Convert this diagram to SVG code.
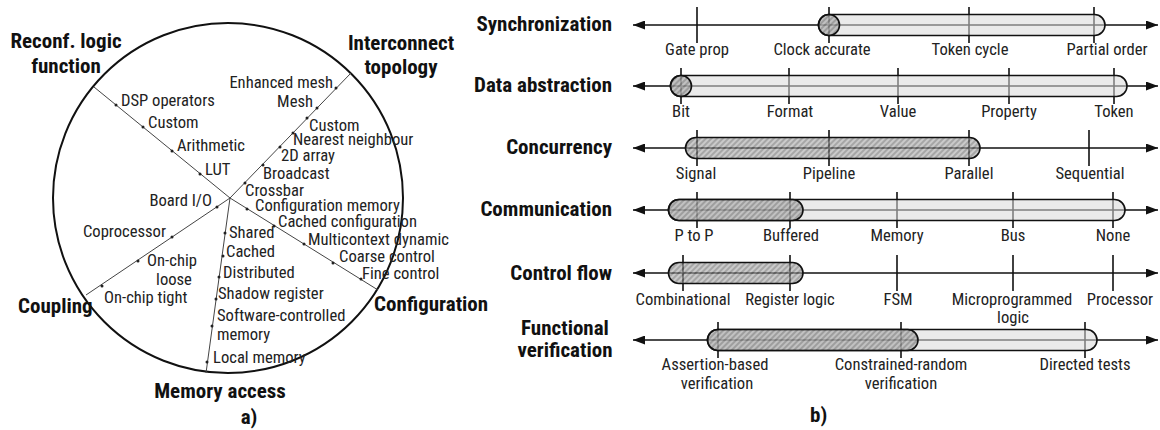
<svg xmlns="http://www.w3.org/2000/svg" width="1160" height="430" viewBox="0 0 1160 430">
  <style>
    text { font-family: 'Roboto Condensed', 'Liberation Sans Narrow', Roboto, sans-serif; }
    .ttl { font-size: 21px; font-weight: 700; fill: #111; }
    .lab { font-size: 16.6px; fill: #222; }
    .tl { font-size: 16.6px; fill: #222; text-anchor: middle; }
    .mid { text-anchor: middle; }
    .end { text-anchor: end; }
    .spoke { stroke: #444; stroke-width: 1; fill: none; }
    .dot { fill: #222; }
    .axis { stroke: #111; stroke-width: 1.6; fill: none; marker-start: url(#arr); marker-end: url(#arr); }
    .tick { stroke: #111; stroke-width: 1.6; }
    .light { fill: #d8d8d8; fill-opacity: 0.55; stroke: #111; stroke-width: 1.6; }
    .hatch { fill: url(#hp); fill-opacity: 0.6; stroke: #111; stroke-width: 1.6; }
  </style>
  <defs>
    <marker id="arr" markerUnits="userSpaceOnUse" markerWidth="12" markerHeight="9" refX="12" refY="4.5" orient="auto-start-reverse">
      <path d="M0,0 L12,4.5 L0,9 Z" fill="#111"/>
    </marker>
    <pattern id="hp" patternUnits="userSpaceOnUse" width="4" height="4" patternTransform="rotate(45)">
      <rect width="4" height="4" fill="#a6a6a6"/>
      <line x1="1" y1="0" x2="1" y2="4" stroke="#3a3a3a" stroke-width="1.1"/>
    </pattern>
  </defs>

  <!-- a) design-space wheel -->
  <g id="wheel">
    <circle cx="228" cy="198" r="175" fill="none" stroke="#111" stroke-width="2"/>
  </g>

  <g id="connectors">
    <line class="spoke" x1="230" y1="198" x2="94" y2="87"/>
    <line class="spoke" x1="230" y1="198" x2="351" y2="73"/>
    <line class="spoke" x1="230" y1="198" x2="378" y2="290"/>
    <line class="spoke" x1="230" y1="198" x2="206" y2="373"/>
    <line class="spoke" x1="230" y1="198" x2="86" y2="295"/>
  </g>

  <g id="reconf-logic-function">
    <text class="ttl mid" x="66" y="48">Reconf. logic</text>
    <text class="ttl mid" x="66" y="73">function</text>
    <circle class="dot" cx="116" cy="105" r="1.5"/>
    <circle class="dot" cx="143" cy="127" r="1.5"/>
    <circle class="dot" cx="172" cy="151" r="1.5"/>
    <circle class="dot" cx="200" cy="174" r="1.5"/>
    <text class="lab" x="121" y="106">DSP operators</text>
    <text class="lab" x="148" y="128">Custom</text>
    <text class="lab" x="177" y="151">Arithmetic</text>
    <text class="lab" x="205" y="175">LUT</text>
  </g>

  <g id="interconnect-topology">
    <text class="ttl mid" x="401" y="50">Interconnect</text>
    <text class="ttl mid" x="401" y="74">topology</text>
    <circle class="dot" cx="336" cy="88" r="1.5"/>
    <circle class="dot" cx="317" cy="108" r="1.5"/>
    <circle class="dot" cx="307" cy="118" r="1.5"/>
    <circle class="dot" cx="293" cy="133" r="1.5"/>
    <circle class="dot" cx="280" cy="147" r="1.5"/>
    <circle class="dot" cx="263" cy="165" r="1.5"/>
    <circle class="dot" cx="245" cy="183" r="1.5"/>
    <text class="lab end" x="333" y="88">Enhanced mesh</text>
    <text class="lab end" x="313" y="107">Mesh</text>
    <text class="lab" x="309" y="131">Custom</text>
    <text class="lab" x="293" y="145">Nearest neighbour</text>
    <text class="lab" x="281" y="161">2D array</text>
    <text class="lab" x="263" y="179">Broadcast</text>
    <text class="lab" x="245" y="196">Crossbar</text>
  </g>

  <g id="configuration">
    <text class="ttl" x="374" y="311">Configuration</text>
    <circle class="dot" cx="247" cy="209" r="1.5"/>
    <circle class="dot" cx="274" cy="226" r="1.5"/>
    <circle class="dot" cx="304" cy="244" r="1.5"/>
    <circle class="dot" cx="333" cy="263" r="1.5"/>
    <circle class="dot" cx="361" cy="279" r="1.5"/>
    <text class="lab" x="255" y="211">Configuration memory</text>
    <text class="lab" x="278" y="227">Cached configuration</text>
    <text class="lab" x="308" y="245">Multicontext dynamic</text>
    <text class="lab" x="339" y="262">Coarse control</text>
    <text class="lab" x="362" y="279">Fine control</text>
  </g>

  <g id="memory-access">
    <text class="ttl mid" x="220" y="398">Memory access</text>
    <circle class="dot" cx="225" cy="233" r="1.5"/>
    <circle class="dot" cx="223" cy="256" r="1.5"/>
    <circle class="dot" cx="219" cy="277" r="1.5"/>
    <circle class="dot" cx="216" cy="299" r="1.5"/>
    <circle class="dot" cx="212" cy="326" r="1.5"/>
    <circle class="dot" cx="207" cy="362" r="1.5"/>
    <text class="lab" x="229" y="238">Shared</text>
    <text class="lab" x="226" y="257">Cached</text>
    <text class="lab" x="223" y="278">Distributed</text>
    <text class="lab" x="218" y="299">Shadow register</text>
    <text class="lab" x="217" y="321">Software-controlled</text>
    <text class="lab" x="217" y="340">memory</text>
    <text class="lab" x="213" y="363">Local memory</text>
  </g>

  <g id="coupling">
    <text class="ttl" x="18" y="313">Coupling</text>
    <circle class="dot" cx="217" cy="207" r="1.5"/>
    <circle class="dot" cx="172" cy="237" r="1.5"/>
    <circle class="dot" cx="138" cy="261" r="1.5"/>
    <circle class="dot" cx="102" cy="286" r="1.5"/>
    <text class="lab end" x="212" y="206">Board I/O</text>
    <text class="lab end" x="166" y="237">Coprocessor</text>
    <text class="lab mid" x="172" y="266">On-chip</text>
    <text class="lab mid" x="174" y="285">loose</text>
    <text class="lab" x="104" y="303">On-chip tight</text>
  </g>

  <text class="ttl mid" x="249" y="424">a)</text>

  <!-- b) abstraction scales -->
  <g id="synchronization">
    <text class="ttl end" x="612" y="31">Synchronization</text>
    <line class="axis" x1="633" y1="25" x2="1158" y2="25"/>
    <line class="tick" x1="697" y1="7" x2="697" y2="43"/>
    <line class="tick" x1="829" y1="7" x2="829" y2="43"/>
    <line class="tick" x1="969" y1="7" x2="969" y2="43"/>
    <line class="tick" x1="1094" y1="7" x2="1094" y2="43"/>
    <rect class="light" x="818.5" y="14.5" width="286.5" height="21" rx="10.5"/>
    <circle class="hatch" cx="829" cy="25" r="10.5"/>
    <text class="tl" x="697" y="55">Gate prop</text>
    <text class="tl" x="822" y="55">Clock accurate</text>
    <text class="tl" x="970" y="55">Token cycle</text>
    <text class="tl" x="1107" y="55">Partial order</text>
  </g>

  <g id="data-abstraction">
    <text class="ttl end" x="612" y="92">Data abstraction</text>
    <line class="axis" x1="633" y1="86" x2="1158" y2="86"/>
    <line class="tick" x1="681" y1="68" x2="681" y2="104"/>
    <line class="tick" x1="789" y1="68" x2="789" y2="104"/>
    <line class="tick" x1="898" y1="68" x2="898" y2="104"/>
    <line class="tick" x1="1009" y1="68" x2="1009" y2="104"/>
    <line class="tick" x1="1114" y1="68" x2="1114" y2="104"/>
    <rect class="light" x="670.5" y="75.5" width="456.5" height="21" rx="10.5"/>
    <circle class="hatch" cx="681" cy="86" r="10.5"/>
    <text class="tl" x="681" y="117">Bit</text>
    <text class="tl" x="790" y="117">Format</text>
    <text class="tl" x="898" y="117">Value</text>
    <text class="tl" x="1009" y="117">Property</text>
    <text class="tl" x="1114" y="117">Token</text>
  </g>

  <g id="concurrency">
    <text class="ttl end" x="612" y="154">Concurrency</text>
    <line class="axis" x1="633" y1="148" x2="1158" y2="148"/>
    <line class="tick" x1="697" y1="130" x2="697" y2="166"/>
    <line class="tick" x1="829" y1="130" x2="829" y2="166"/>
    <line class="tick" x1="969" y1="130" x2="969" y2="166"/>
    <line class="tick" x1="1089" y1="130" x2="1089" y2="166"/>
    <rect class="hatch" x="685.5" y="137.5" width="294.5" height="21" rx="10.5"/>
    <text class="tl" x="696" y="179">Signal</text>
    <text class="tl" x="829" y="179">Pipeline</text>
    <text class="tl" x="969" y="179">Parallel</text>
    <text class="tl" x="1090" y="179">Sequential</text>
  </g>

  <g id="communication">
    <text class="ttl end" x="612" y="216">Communication</text>
    <line class="axis" x1="633" y1="210" x2="1158" y2="210"/>
    <line class="tick" x1="697" y1="192" x2="697" y2="228"/>
    <line class="tick" x1="790" y1="192" x2="790" y2="228"/>
    <line class="tick" x1="897" y1="192" x2="897" y2="228"/>
    <line class="tick" x1="1013" y1="192" x2="1013" y2="228"/>
    <line class="tick" x1="1113" y1="192" x2="1113" y2="228"/>
    <rect class="light" x="668.5" y="199.5" width="456.5" height="21" rx="10.5"/>
    <rect class="hatch" x="668.5" y="199.5" width="134.5" height="21" rx="10.5"/>
    <text class="tl" x="694" y="241">P to P</text>
    <text class="tl" x="791" y="241">Buffered</text>
    <text class="tl" x="897" y="241">Memory</text>
    <text class="tl" x="1013" y="241">Bus</text>
    <text class="tl" x="1113" y="241">None</text>
  </g>

  <g id="control-flow">
    <text class="ttl end" x="612" y="280">Control flow</text>
    <line class="axis" x1="633" y1="273" x2="1158" y2="273"/>
    <line class="tick" x1="683" y1="255" x2="683" y2="291"/>
    <line class="tick" x1="790" y1="255" x2="790" y2="291"/>
    <line class="tick" x1="897" y1="255" x2="897" y2="291"/>
    <line class="tick" x1="1013" y1="255" x2="1013" y2="291"/>
    <line class="tick" x1="1113" y1="255" x2="1113" y2="291"/>
    <rect class="hatch" x="668.5" y="262.5" width="134.5" height="21" rx="10.5"/>
    <text class="tl" x="683" y="305">Combinational</text>
    <text class="tl" x="790" y="305">Register logic</text>
    <text class="tl" x="898" y="305">FSM</text>
    <text class="tl" x="1012" y="305">Microprogrammed</text>
    <text class="tl" x="1013" y="323">logic</text>
    <text class="tl" x="1120" y="305">Processor</text>
  </g>

  <g id="functional-verification">
    <text class="ttl mid" x="565" y="335">Functional</text>
    <text class="ttl mid" x="565" y="357">verification</text>
    <line class="axis" x1="633" y1="340" x2="1158" y2="340"/>
    <line class="tick" x1="718" y1="322" x2="718" y2="358"/>
    <line class="tick" x1="901" y1="322" x2="901" y2="358"/>
    <line class="tick" x1="1085" y1="322" x2="1085" y2="358"/>
    <rect class="light" x="707.5" y="329.5" width="389.5" height="21" rx="10.5"/>
    <rect class="hatch" x="707.5" y="329.5" width="210.5" height="21" rx="10.5"/>
    <text class="tl" x="715" y="370">Assertion-based</text>
    <text class="tl" x="717" y="389">verification</text>
    <text class="tl" x="901" y="370">Constrained-random</text>
    <text class="tl" x="901" y="389">verification</text>
    <text class="tl" x="1085" y="370">Directed tests</text>
  </g>

  <text class="ttl" x="810" y="422">b)</text>
</svg>
